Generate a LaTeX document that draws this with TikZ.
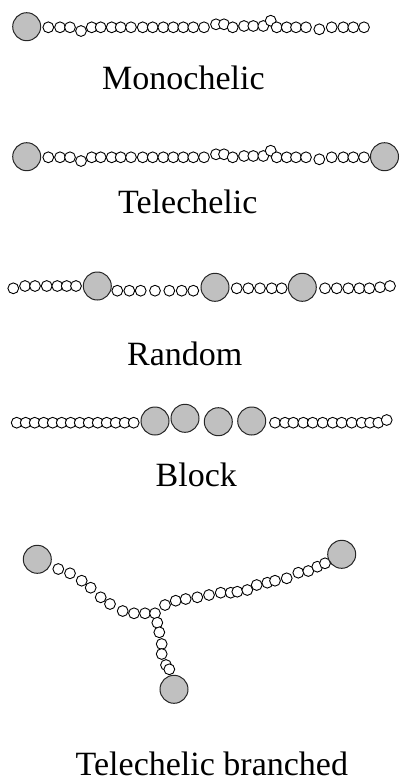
\documentclass[tikz,border=0pt]{standalone}
\usepackage{fontspec}
\setmainfont{Liberation Serif}
\definecolor{endbead}{RGB}{192,192,192}
\begin{document}
\begin{tikzpicture}[x=1pt,y=-1pt,
  monomer/.style={draw=black,fill=white,line width=0.9pt},
  endgroup/.style={draw=black!85,fill=endbead,line width=1pt},
  caption/.style={font=\fontsize{34}{40}\selectfont,inner sep=0pt,anchor=base west}]
\useasboundingbox (0,0) rectangle (400,782);
\def\mr{5.4pt}% monomer bead radius
\def\er{14pt}% end-group bead radius

% linear backbone shared by the mono- and telechelic chains
\def\backbone{48.3/27.3, 60/27.3, 70/27.3, 81/31, 91.7/27.3, 100.7/27.3,
  111.7/27.3, 120.7/27.3, 131/27.3, 142.7/27.3, 152.7/27.3, 163.3/27.3,
  173.3/27.3, 183.3/27.3, 193.3/27.3, 204/27.3, 216/24.3, 224/24.3,
  232.7/27.3, 244/26, 253.3/26, 263.3/26, 270.7/20.7, 276.7/27.3,
  286.7/27.3, 296/27.3, 306/27.3, 319.3/29.3, 331.7/27.3, 343.3/27.3,
  353.3/27.3, 364/27.3}

% --- monochelic
\foreach \x/\y in \backbone \draw[monomer] (\x,\y) circle[radius=\mr];
\draw[endgroup] (26.7,26.7) circle[radius=\er];
\node[caption] (mono) at (102,89.3) {Monochelic};

% --- telechelic
\begin{scope}[shift={(0,130)}]
\foreach \x/\y in \backbone \draw[monomer] (\x,\y) circle[radius=\mr];
\draw[endgroup] (26.7,26.7) circle[radius=\er];
\draw[endgroup] (384.5,26.7) circle[radius=\er];
\end{scope}
\node[caption] (tele) at (118,213.3) {Telechelic};

% --- random
\foreach \x/\y in {13.3/288.3, 25/286, 35/286, 46.7/286, 57.3/286, 66.7/286, 76/286,
  117.3/290.7, 129.3/290.7, 140.7/290.7, 155/290.7, 169.3/290.7, 181.7/290.7, 193.3/290.7,
  236.7/288.3, 248.3/288.3, 260/288.3, 271.7/288.3, 281.7/288.3,
  325/288.3, 336.7/288.3, 348.3/288.3, 359.3/288.3, 369.3/288.3, 380/287.3, 390/286}
  \draw[monomer] (\x,\y) circle[radius=\mr];
\foreach \x/\y in {97.3/286, 215/287.3, 302.3/287.3}
  \draw[endgroup] (\x,\y) circle[radius=\er];
\node[caption] (rand) at (127,365) {Random};

% --- block
\foreach \i in {0,...,13}
  \draw[monomer] ({16.7+9*\i},422.7) circle[radius=\mr];
\foreach \x/\y in {275/422.7, 285/422.7, 293.3/422.7, 303.3/422.7, 312.7/422.7,
  322.7/422.7, 332.7/422.7, 341.7/422.7, 351.7/422.7, 361.7/422.7, 370/422.7,
  378.3/422.7, 386.7/420}
  \draw[monomer] (\x,\y) circle[radius=\mr];
\foreach \x/\y in {155/421, 185/418.3, 218.3/421.7, 251.7/421}
  \draw[endgroup] (\x,\y) circle[radius=\er];
\node[caption] (block) at (155.5,486.7) {Block};

% --- telechelic branched (three arms meeting at a branch point)
\foreach \x/\y in {58.3/569, 70/573.3, 81.7/580.7, 90.7/587.7, 100.7/597.3, 110/604,
  122.7/611, 134/613.3, 145/613.3, 155/613.3}
  \draw[monomer] (\x,\y) circle[radius=\mr];
\foreach \x/\y in {157.3/622.7, 159.3/632.3, 161.7/644, 161.7/654, 166/665, 169.3/669.3}
  \draw[monomer] (\x,\y) circle[radius=\mr];
\foreach \x/\y in {165/605, 175.7/600.7, 185.7/599, 197.3/597.3, 209/595, 220.7/592.7,
  230.7/592.7, 237.3/591.7, 247.3/590, 256.7/585, 267.3/582.7, 275/580.7,
  286.7/578.3, 298.3/572.7, 308.3/571, 317.3/566.7, 325/563.3}
  \draw[monomer] (\x,\y) circle[radius=\mr];
\foreach \x/\y in {37.3/559.3, 341.7/554.3, 174/689.3}
  \draw[endgroup] (\x,\y) circle[radius=\er];
\node[caption] (branched) at (75.5,775) {Telechelic branched};
\end{tikzpicture}
\end{document}
